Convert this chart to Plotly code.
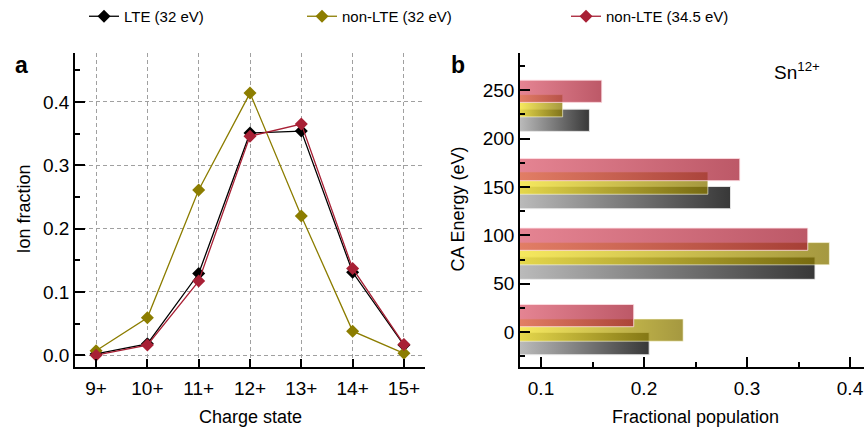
import plotly.graph_objects as go

# ---------------- data ----------------
charge_states = ["9+", "10+", "11+", "12+", "13+", "14+", "15+"]
lte_32 = [0.002, 0.018, 0.129, 0.351, 0.354, 0.131, 0.016]
nlte_32 = [0.007, 0.059, 0.261, 0.414, 0.220, 0.038, 0.003]
nlte_345 = [0.000, 0.016, 0.117, 0.346, 0.365, 0.137, 0.017]

ca_energy_lte = [-12, 66, 139, 219]
ca_energy_nlte32 = [2, 81, 154, 234]
ca_energy_nlte345 = [17, 96, 168, 249]
pop_lte = [0.205, 0.366, 0.284, 0.147]
pop_nlte32 = [0.238, 0.380, 0.262, 0.121]
pop_nlte345 = [0.190, 0.359, 0.293, 0.159]

series_names = ["LTE (32 eV)", "non-LTE (32 eV)", "non-LTE (34.5 eV)"]

# ---------------- style ----------------
W, H = 864, 428
FONT = "Liberation Sans, Arial, Helvetica, sans-serif"
C_BLACK = "#000000"
C_OLIVE = "#8c7d00"
C_RED = "#a82035"
BAR_THICK = 23
A_YR = [-0.0184, 0.478]
A_XR = [-0.41, 6.41]
B_XR = [0.0796, 0.4136]
B_YR = [-36, 289]

X_DOM_A = [75 / W, 425 / W]
X_DOM_B = [520 / W, 1.0]
Y_DOM = [1 - 366.7 / H, 1 - 51.7 / H]

fig = go.Figure()

# ---------- panel a ----------
for name, vals, col, lg in [
    (series_names[0], lte_32, C_BLACK, "legend"),
    (series_names[1], nlte_32, C_OLIVE, "legend2"),
    (series_names[2], nlte_345, C_RED, "legend3"),
]:
    fig.add_trace(go.Scatter(
        x=charge_states, y=vals, name=name, mode="lines+markers",
        line=dict(color=col, width=1.3),
        marker=dict(symbol="diamond", size=10, color=col),
        xaxis="x", yaxis="y", legend=lg, showlegend=True,
    ))

# ---------- panel b (gradient bars) ----------
bar_sets = [
    (ca_energy_lte, pop_lte, ["rgb(186,186,186)", "rgb(56,56,56)"], "rgba(235,235,235,0.9)"),
    (ca_energy_nlte32, pop_nlte32, ["rgba(243,225,40,0.75)", "rgba(135,118,0,0.75)"], "rgba(255,255,230,0.6)"),
    (ca_energy_nlte345, pop_nlte345, ["rgba(218,84,104,0.72)", "rgba(165,30,50,0.74)"], "rgba(255,225,230,0.8)"),
]
for energies, pops, cols, edge in bar_sets:
    for e, p in zip(energies, pops):
        y0, y1 = e - BAR_THICK / 2, e + BAR_THICK / 2
        fig.add_trace(go.Scatter(
            x=[0, p, p, 0, 0], y=[y0, y0, y1, y1, y0],
            mode="lines", fill="toself",
            line=dict(color=edge, width=1),
            fillgradient=dict(type="horizontal", start=B_XR[0], stop=p,
                              colorscale=[[0, cols[0]], [1, cols[1]]]),
            xaxis="x2", yaxis="y2", showlegend=False, hoverinfo="skip",
        ))

axis_common = dict(showline=True, linecolor="black", linewidth=1.6, ticks="inside",
                   tickcolor="black", tickwidth=1.5, zeroline=False, mirror=False,
                   tickfont=dict(family=FONT, size=19, color="black"))

GRID = dict(showgrid=True, gridcolor="#a0a0a0", griddash="4px,3px", gridwidth=1)
LEG_Y = 1 - 16 / H
fig.update_layout(
    width=W, height=H, margin=dict(l=0, r=0, t=0, b=0),
    paper_bgcolor="white", plot_bgcolor="white",
    font=dict(family=FONT, color="black"),
    xaxis=dict(domain=X_DOM_A, anchor="y", range=A_XR, type="category",
               ticklen=8, ticklabelstandoff=4, **GRID, **axis_common),
    yaxis=dict(domain=Y_DOM, anchor="x", range=A_YR, tickvals=[0, 0.1, 0.2, 0.3, 0.4],
               ticktext=["0.0", "0.1", "0.2", "0.3", "0.4"],
               ticklen=10, ticklabelstandoff=0,
               minor=dict(tickvals=[0.05, 0.15, 0.25, 0.35, 0.45], ticks="inside",
                          ticklen=5, tickcolor="black", tickwidth=1.5, showgrid=False),
               **GRID, **axis_common),
    xaxis2=dict(domain=X_DOM_B, anchor="y2", range=B_XR, tickvals=[0.1, 0.2, 0.3, 0.4],
                showgrid=False, ticklen=10, ticklabelstandoff=4,
                minor=dict(tickvals=[0.15, 0.25, 0.35], ticks="inside", ticklen=5,
                           tickcolor="black", tickwidth=1.5, showgrid=False),
                **axis_common),
    yaxis2=dict(domain=Y_DOM, anchor="x2", range=B_YR, tickvals=[0, 50, 100, 150, 200, 250],
                showgrid=False, ticklen=10, ticklabelstandoff=0,
                minor=dict(tickvals=[-25, 25, 75, 125, 175, 225, 275], ticks="inside",
                           ticklen=5, tickcolor="black", tickwidth=1.5, showgrid=False),
                **axis_common),
    legend=dict(orientation="h", x=84 / W, xanchor="left", y=LEG_Y, yanchor="middle",
                font=dict(family=FONT, size=15), bgcolor="rgba(0,0,0,0)"),
    legend2=dict(orientation="h", x=302 / W, xanchor="left", y=LEG_Y, yanchor="middle",
                 font=dict(family=FONT, size=15), bgcolor="rgba(0,0,0,0)"),
    legend3=dict(orientation="h", x=566 / W, xanchor="left", y=LEG_Y, yanchor="middle",
                 font=dict(family=FONT, size=15), bgcolor="rgba(0,0,0,0)"),
    showlegend=True,
)

ann = [
    dict(text="<b>a</b>", x=13 / W, y=1 - 64 / H, xanchor="left", yanchor="middle", font=dict(size=23)),
    dict(text="<b>b</b>", x=449 / W, y=1 - 64 / H, xanchor="left", yanchor="middle", font=dict(size=23)),
    dict(text="Charge state", x=250 / W, y=1 - 417 / H, xanchor="center", yanchor="middle", font=dict(size=18)),
    dict(text="Fractional population", x=695 / W, y=1 - 417 / H, xanchor="center", yanchor="middle", font=dict(size=18)),
    dict(text="Ion fraction", x=24 / W, y=1 - 209 / H, xanchor="center", yanchor="middle", textangle=-90, font=dict(size=18)),
    dict(text="CA Energy (eV)", x=458 / W, y=1 - 209 / H, xanchor="center", yanchor="middle", textangle=-90, font=dict(size=18)),
    dict(text="Sn<sup>12+</sup>", x=772 / W, y=1 - 70 / H, xanchor="left", yanchor="middle", font=dict(size=19)),
]
for a in ann:
    a.update(xref="paper", yref="paper", showarrow=False)
    a["font"].update(family=FONT, color="black")
fig.update_layout(annotations=ann)

fig.write_html(
    "out.html",
    config={"displayModeBar": False},
    post_script="document.body.style.margin='0px';document.body.style.overflow='hidden';",
)
